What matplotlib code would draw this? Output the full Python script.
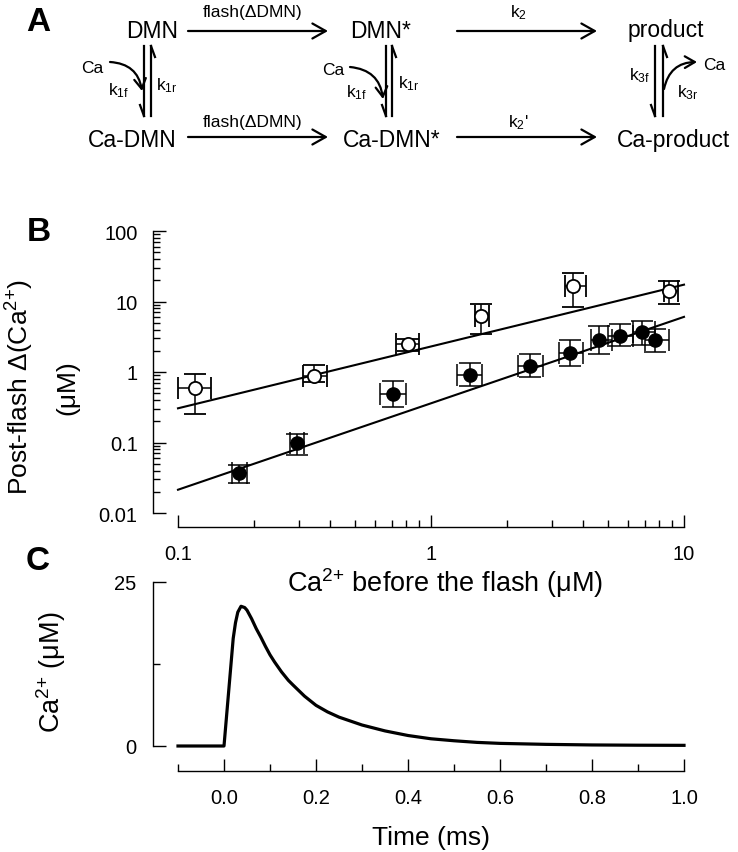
import numpy as np
import matplotlib
matplotlib.use('Agg')
import matplotlib.pyplot as plt
from matplotlib.ticker import NullFormatter, LogLocator, FixedLocator

plt.rcParams['font.family'] = ['Liberation Sans', 'DejaVu Sans']
plt.rcParams['mathtext.fontset'] = 'custom'
plt.rcParams['mathtext.rm'] = 'Liberation Sans'
plt.rcParams['mathtext.it'] = 'Liberation Sans:italic'
plt.rcParams['mathtext.bf'] = 'Liberation Sans:bold'
plt.rcParams['mathtext.default'] = 'regular'
plt.rcParams['axes.linewidth'] = 1.0

# ---- panel B: post-flash delta Ca vs Ca before the flash (uM) ----
# open circles
open_ca = np.array([0.117, 0.345, 0.81, 1.57, 3.64, 8.75])
open_ca_lo = np.array([0.100, 0.313, 0.73, 1.49, 3.40, 8.30])
open_ca_hi = np.array([0.135, 0.387, 0.90, 1.69, 4.10, 9.50])
open_dca = np.array([0.59, 0.87, 2.49, 6.2, 16.7, 14.0])
open_dca_lo = np.array([0.25, 0.73, 2.00, 3.46, 8.3, 9.2])
open_dca_hi = np.array([0.94, 1.27, 2.96, 9.2, 25.4, 19.7])
# filled circles
fill_ca = np.array([0.175, 0.296, 0.708, 1.42, 2.47, 3.55, 4.60, 5.58, 6.84, 7.69])
fill_ca_lo = np.array([0.163, 0.277, 0.63, 1.27, 2.20, 3.22, 4.29, 5.0, 6.3, 7.0])
fill_ca_hi = np.array([0.187, 0.316, 0.80, 1.59, 2.77, 3.98, 5.2, 6.3, 7.7, 8.7])
fill_dca = np.array([0.037, 0.10, 0.49, 0.92, 1.23, 1.86, 2.85, 3.27, 3.66, 2.85])
fill_dca_lo = np.array([0.027, 0.066, 0.32, 0.64, 0.84, 1.23, 1.80, 2.3, 2.4, 1.9])
fill_dca_hi = np.array([0.048, 0.13, 0.75, 1.34, 1.80, 2.87, 4.54, 4.8, 5.3, 4.1])
# regression lines, log10(y) = a + b*log10(x)
fit_x = np.array([0.1, 10.0])
fit_open = (0.362, 0.877)
fit_fill = (-0.444, 1.226)

# ---- panel C: simulated Ca transient ----
time_ms = [-0.1, 0.0, 0.005, 0.01, 0.015, 0.02, 0.025, 0.03, 0.037, 0.045,
           0.05, 0.06, 0.07, 0.08, 0.09, 0.10, 0.11, 0.125, 0.14, 0.15,
           0.175, 0.20, 0.225, 0.25, 0.275, 0.30, 0.35, 0.40, 0.45, 0.50,
           0.55, 0.60, 0.70, 0.80, 0.90, 1.00]
ca_um = [0, 0, 4.1, 8.2, 12.3, 16.4, 18.8, 20.4, 21.3, 21.1,
         20.7, 19.4, 17.9, 16.6, 15.2, 13.9, 12.8, 11.3, 10.0, 9.3,
         7.6, 6.2, 5.2, 4.4, 3.8, 3.2, 2.3, 1.6, 1.1, 0.8,
         0.55, 0.4, 0.25, 0.16, 0.12, 0.1]

W, H = 738, 853
fig = plt.figure(figsize=(W / 100, H / 100), dpi=100)


def rect(x0, y0, x1, y1):
    return [x0 / W, 1 - y1 / H, (x1 - x0) / W, (y1 - y0) / H]


# overlay in pixel coordinates for the scheme and free labels
axA = fig.add_axes([0, 0, 1, 1])
axA.set_xlim(0, W)
axA.set_ylim(H, 0)
axA.axis('off')

BIG = 16.5
SMALL = 12.5
LW = 1.6
CA2 = 'Ca$^{2{+}}$'


def species(x, y, s):
    axA.text(x, y, s, fontsize=BIG, ha='center', va='baseline')


def label(x, y, s, size=SMALL):
    axA.text(x, y, s, fontsize=size, ha='center', va='baseline')


def harrow(x0, x1, y):
    axA.annotate('', xy=(x1, y), xytext=(x0, y),
                 arrowprops=dict(arrowstyle='->,head_length=0.8,head_width=0.45',
                                 lw=LW, color='k', shrinkA=0, shrinkB=0,
                                 mutation_scale=12))


def equil(x, y0, y1, gap):
    axA.plot([x, x], [y0, y1], 'k', lw=LW)
    axA.plot([x - 4, x], [y1 - 11, y1], 'k', lw=LW)
    axA.plot([x + gap, x + gap], [y0, y1], 'k', lw=LW)
    axA.plot([x + gap, x + gap + 4], [y0, y0 + 11], 'k', lw=LW)


def curved(x0, y0, x1, y1):
    axA.annotate('', xy=(x1, y1), xytext=(x0, y0),
                 arrowprops=dict(arrowstyle='->,head_length=0.6,head_width=0.35',
                                 lw=LW, color='k', shrinkA=0, shrinkB=0,
                                 mutation_scale=12,
                                 connectionstyle='arc3,rad=-0.4'))


species(152, 38, 'DMN')
species(381, 38, 'DMN*')
species(666, 37, 'product')
species(132, 147, 'Ca-DMN')
species(392, 147, 'Ca-DMN*')
species(673, 147, 'Ca-product')

harrow(188, 328, 32)
harrow(457, 597, 32)
harrow(188, 328, 138)
harrow(457, 597, 138)
label(253, 17, 'flash(ΔDMN)')
label(253, 127, 'flash(ΔDMN)')
label(518, 17, 'k$_{2}$')
label(518, 127, "k$_{2}$'")

equil(144, 47, 117, 7)
equil(386, 47, 117, 6)
equil(655, 47, 117, 8)

label(92, 73, 'Ca')
curved(110, 63, 142, 92)
label(119, 95, 'k$_{1f}$')
label(167, 90, 'k$_{1r}$')

label(333, 75, 'Ca')
curved(350, 68, 383, 100)
label(357, 97, 'k$_{1f}$')
label(409, 88, 'k$_{1r}$')

label(640, 80, 'k$_{3f}$')
curved(664, 90, 697, 63)
label(714, 70, 'Ca')
label(688, 97, 'k$_{3r}$')

for letter, (x, y) in zip('ABC', [(38, 22), (39, 232), (38, 561)]):
    axA.text(x, y, letter, fontsize=24, fontweight='bold', ha='center', va='center')

# ---- panel B ----
axB = fig.add_axes(rect(178, 232, 684, 514))
axB.patch.set_visible(False)
axB.set_xscale('log')
axB.set_yscale('log')

for (a, b) in [fit_open, fit_fill]:
    axB.plot(fit_x, 10 ** (a + b * np.log10(fit_x)), 'k', lw=1.5, zorder=2, clip_on=False)

axB.errorbar(open_ca, open_dca,
             xerr=[open_ca - open_ca_lo, open_ca_hi - open_ca],
             yerr=[open_dca - open_dca_lo, open_dca_hi - open_dca],
             fmt='o', ms=9.5, mfc='white', mec='k', mew=1.3, ecolor='k',
             elinewidth=1.1, capsize=8, capthick=1.1, zorder=3, clip_on=False)
axB.errorbar(fill_ca, fill_dca,
             xerr=[fill_ca - fill_ca_lo, fill_ca_hi - fill_ca],
             yerr=[fill_dca - fill_dca_lo, fill_dca_hi - fill_dca],
             fmt='o', ms=9.5, mfc='k', mec='k', ecolor='k',
             elinewidth=1.1, capsize=8, capthick=1.1, zorder=3, clip_on=False)

axB.set_xlim(0.1, 10)
axB.set_ylim(0.01, 100)
for s in ['top', 'right']:
    axB.spines[s].set_visible(False)
axB.spines['left'].set_position(('outward', 18))
axB.spines['bottom'].set_position(('outward', 10))
axB.set_yticks([0.01, 0.1, 1, 10, 100])
axB.set_yticklabels(['0.01', '0.1', '1', '10', '100'])
axB.set_xticks([0.1, 1, 10])
axB.set_xticklabels(['0.1', '1', '10'])
axB.yaxis.set_minor_locator(LogLocator(subs=np.arange(2, 10)))
axB.xaxis.set_minor_locator(LogLocator(subs=np.arange(2, 10)))
axB.xaxis.set_minor_formatter(NullFormatter())
axB.yaxis.set_minor_formatter(NullFormatter())
axB.tick_params(which='both', direction='in', width=1)
axB.tick_params(which='major', length=9)
axB.tick_params(which='minor', length=5)
axB.tick_params(axis='y', which='major', pad=11, labelsize=14.5)
axB.tick_params(axis='x', which='major', pad=12, labelsize=14.5)

axA.text(445, 592, CA2 + ' before the flash (μM)', fontsize=19.5,
         ha='center', va='baseline')
axA.text(20, 387, 'Post-flash Δ(' + CA2 + ')', fontsize=19, rotation=90,
         ha='center', va='center')
axA.text(67, 388, '(μM)', fontsize=19, rotation=90, ha='center', va='center')

# ---- panel C ----
axC = fig.add_axes(rect(178, 583, 684, 747))
axC.patch.set_visible(False)
axC.plot(time_ms, ca_um, 'k', lw=2.3, solid_joinstyle='round', clip_on=False)
axC.set_xlim(-0.1, 1.0)
axC.set_ylim(0, 25)
for s in ['top', 'right']:
    axC.spines[s].set_visible(False)
axC.spines['left'].set_position(('outward', 18))
axC.spines['bottom'].set_position(('outward', 18))
axC.set_yticks([0, 25])
axC.yaxis.set_minor_locator(FixedLocator([12.5]))
axC.set_xticks([0.0, 0.2, 0.4, 0.6, 0.8, 1.0])
axC.set_xticklabels(['0.0', '0.2', '0.4', '0.6', '0.8', '1.0'])
axC.xaxis.set_minor_locator(FixedLocator([-0.1, 0.1, 0.3, 0.5, 0.7, 0.9]))
axC.tick_params(which='both', direction='in', width=1)
axC.tick_params(which='major', length=9)
axC.tick_params(which='minor', length=5)
axC.tick_params(axis='y', which='major', pad=12, labelsize=14.5)
axC.tick_params(axis='x', which='major', pad=12, labelsize=14.5)

axA.text(51, 672, CA2 + ' (μM)', fontsize=19.5, rotation=90,
         ha='center', va='center')
axA.text(431, 838, 'Time (ms)', fontsize=19, ha='center', va='center')

fig.savefig('out.png', dpi=100)
